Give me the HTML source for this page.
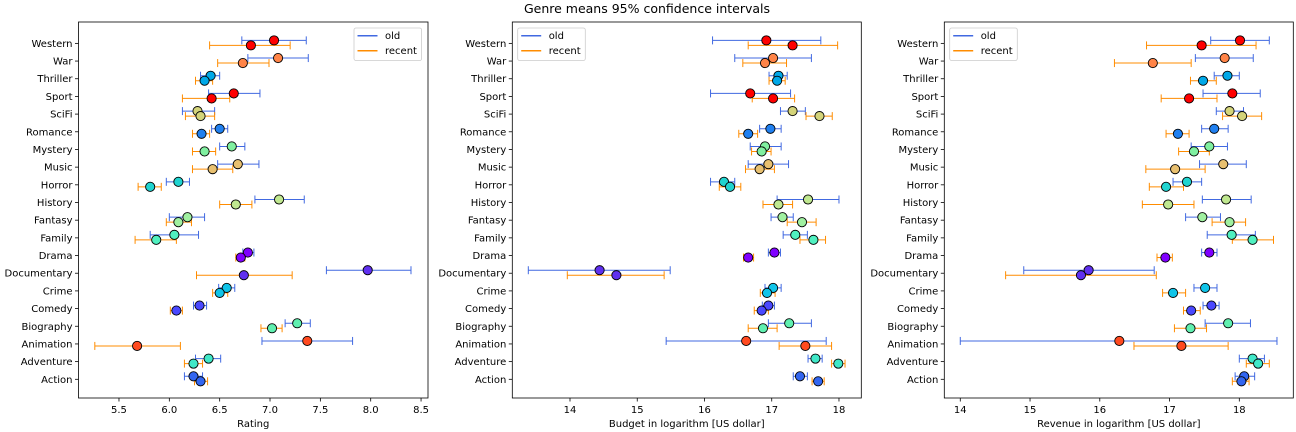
<!DOCTYPE html>
<html><head><meta charset="utf-8"><style>
html,body{margin:0;padding:0;background:#fff;}
svg{display:block;font-family:"DejaVu Sans","Liberation Sans",sans-serif;}
</style></head><body>
<svg id="chart" width="1296" height="432" viewBox="0 0 1296 432" xmlns="http://www.w3.org/2000/svg">
<text x="647" y="13" font-size="12.5" text-anchor="middle" fill="#000">Genre means 95% confidence intervals</text>
</svg>
<script>
const genres = ["Action","Adventure","Animation","Biography","Comedy","Crime","Documentary","Drama","Family","Fantasy","History","Horror","Music","Mystery","Romance","SciFi","Sport","Thriller","War","Western"];
const genreColors = ["#3366f0","#40e8c8","#ff4a20","#60f0b0","#4a48ff","#10c4e8","#6030f0","#8000ff","#50f0c0","#a0f0a0","#c0e890","#20d4d0","#e8c070","#80f0a0","#2080f0","#d4d47a","#ff0000","#00a8e8","#ff8448","#ff0000"];
// Rating
const ratingOldMean = [6.24,6.39,7.37,7.27,6.30,6.57,7.97,6.78,6.05,6.18,7.09,6.09,6.68,6.62,6.50,6.28,6.64,6.41,7.08,7.04];
const ratingOldLo   = [6.15,6.26,6.92,7.15,6.24,6.49,7.56,6.73,5.81,6.00,6.85,5.97,6.48,6.50,6.42,6.13,6.39,6.31,6.78,6.72];
const ratingOldHi   = [6.33,6.51,7.82,7.40,6.37,6.65,8.40,6.84,6.29,6.35,7.34,6.20,6.89,6.75,6.58,6.45,6.90,6.50,7.38,7.36];
const ratingNewMean = [6.31,6.24,5.68,7.02,6.07,6.50,6.74,6.71,5.87,6.09,6.66,5.81,6.43,6.35,6.32,6.31,6.42,6.35,6.73,6.81];
const ratingNewLo   = [6.25,6.15,5.26,6.91,6.01,6.43,6.27,6.66,5.66,5.97,6.50,5.69,6.23,6.23,6.23,6.16,6.13,6.26,6.48,6.40];
const ratingNewHi   = [6.38,6.33,6.11,7.12,6.13,6.58,7.22,6.75,6.07,6.22,6.82,5.92,6.63,6.46,6.40,6.45,6.60,6.43,6.99,7.20];
// Budget
const budgetOldMean = [17.42,17.65,16.62,17.26,16.95,17.02,14.44,17.04,17.35,17.16,17.54,16.29,16.95,16.90,16.98,17.31,16.68,17.10,17.02,16.92];
const budgetOldLo   = [17.32,17.54,15.43,16.95,16.86,16.90,13.38,16.95,17.17,16.99,17.08,16.09,16.65,16.68,16.82,17.13,16.09,16.96,16.45,16.12];
const budgetOldHi   = [17.53,17.75,17.81,17.59,17.04,17.14,15.49,17.13,17.53,17.32,18.00,16.45,17.25,17.14,17.14,17.50,17.28,17.23,17.59,17.73];
const budgetNewMean = [17.69,17.99,17.50,16.87,16.85,16.93,14.69,16.65,17.62,17.45,17.10,16.38,16.82,16.85,16.65,17.71,17.02,17.08,16.90,17.31];
const budgetNewLo   = [17.60,17.89,17.11,16.65,16.74,16.83,13.96,16.58,17.42,17.23,16.87,16.22,16.61,16.70,16.51,17.51,16.71,16.96,16.57,16.65];
const budgetNewHi   = [17.78,18.09,17.89,17.08,16.95,17.05,15.40,16.73,17.80,17.66,17.31,16.54,17.04,16.99,16.79,17.90,17.34,17.20,17.22,17.98];
// Revenue
const revOldMean = [18.07,18.19,16.28,17.84,17.60,17.51,15.84,17.57,17.89,17.47,17.81,17.25,17.77,17.57,17.64,17.86,17.90,17.83,17.79,18.01];
const revOldLo   = [17.94,18.00,14.00,17.51,17.48,17.35,14.91,17.46,17.54,17.23,17.47,17.05,17.43,17.31,17.46,17.67,17.48,17.64,17.37,17.59];
const revOldHi   = [18.22,18.36,18.54,18.16,17.71,17.68,16.78,17.68,18.23,17.73,18.17,17.46,18.10,17.83,17.84,18.06,18.30,18.00,18.20,18.43];
const revNewMean = [18.03,18.27,17.17,17.30,17.31,17.05,15.73,16.94,18.19,17.86,16.98,16.95,17.08,17.35,17.12,18.04,17.28,17.48,16.76,17.46];
const revNewLo   = [17.90,18.10,16.49,17.07,17.20,16.90,14.65,16.82,17.90,17.61,16.61,16.71,16.66,17.13,16.95,17.76,16.88,17.30,16.21,16.67];
const revNewHi   = [18.14,18.43,17.84,17.53,17.44,17.23,16.81,17.04,18.49,18.09,17.35,17.20,17.51,17.57,17.28,18.32,17.68,17.67,17.31,18.24];
const ratingTicks = [5.5,6.0,6.5,7.0,7.5,8.0,8.5];
const budgetTicks = [14,15,16,17,18];
const revTicks = [14,15,16,17,18];

const NS="http://www.w3.org/2000/svg";
const svg=document.getElementById('chart');
function mk(tag,attrs,parent){const e=document.createElementNS(NS,tag);for(const k in attrs)e.setAttribute(k,attrs[k]);(parent||svg).appendChild(e);return e;}

const panels=[
 {name:'rating',L:78.5,R:428,dmin:5.098,dmax:8.569,ticks:ratingTicks,fmt:v=>v.toFixed(1),label:'Rating',legX:354,
  om:ratingOldMean,ol:ratingOldLo,oh:ratingOldHi,nm:ratingNewMean,nl:ratingNewLo,nh:ratingNewHi},
 {name:'budget',L:512.3,R:861.3,dmin:13.142,dmax:18.332,ticks:budgetTicks,fmt:v=>String(v),label:'Budget in logarithm [US dollar]',legX:517.7,
  om:budgetOldMean,ol:budgetOldLo,oh:budgetOldHi,nm:budgetNewMean,nl:budgetNewLo,nh:budgetNewHi},
 {name:'revenue',L:944.3,R:1293.3,dmin:13.771,dmax:18.774,ticks:revTicks,fmt:v=>String(v),label:'Revenue in logarithm [US dollar]',legX:949.7,
  om:revOldMean,ol:revOldLo,oh:revOldHi,nm:revNewMean,nl:revNewLo,nh:revNewHi}
];
const TOP=22,BOT=398;
function yOf(i){return 379.3-i*17.68;}
const OLD='#4169e1',NEW='#ff8c00';

panels.forEach(p=>{
  const g=mk('g',{});
  
  
  const x=v=>p.L+(v-p.dmin)/(p.dmax-p.dmin)*(p.R-p.L);
  // y ticks
  genres.forEach((gn,i)=>{
    const y=yOf(i);
    mk('line',{x1:p.L-3.5,x2:p.L,y1:y,y2:y,stroke:'#000','stroke-width':0.8},g);
    const t=mk('text',{x:p.L-6,y:y+3.5,'font-size':10,'text-anchor':'end',fill:'#000'},g);
    t.textContent=gn;
    
    
  });
  p.ticks.forEach(v=>{
    const xx=x(v);
    mk('line',{x1:xx,x2:xx,y1:BOT,y2:BOT+3.5,stroke:'#000','stroke-width':0.8},g);
    const t=mk('text',{x:xx,y:BOT+15,'font-size':10,'text-anchor':'middle',fill:'#000'},g);
    t.textContent=p.fmt(v);
    
    
  });
  const xl=mk('text',{x:(p.L+p.R)/2,y:427,'font-size':10,'text-anchor':'middle',fill:'#000'},g);
  xl.textContent=p.label;
  
  
  // series
  const series=[{m:p.om,l:p.ol,h:p.oh,c:OLD,dy:-3,n:'old'},{m:p.nm,l:p.nl,h:p.nh,c:NEW,dy:2,n:'recent'}];
  series.forEach(s=>{
    genres.forEach((gn,i)=>{
      const y=yOf(i)+s.dy;
      const eb=mk('g',{stroke:s.c,'stroke-width':1},g);
      
      
      mk('line',{x1:x(s.l[i]),x2:x(s.h[i]),y1:y,y2:y},eb);
      mk('line',{x1:x(s.l[i]),x2:x(s.l[i]),y1:y-4,y2:y+4},eb);
      mk('line',{x1:x(s.h[i]),x2:x(s.h[i]),y1:y-4,y2:y+4},eb);
    });
  });
  series.forEach(s=>{
    genres.forEach((gn,i)=>{
      const c=mk('circle',{cx:x(s.m[i]),cy:yOf(i)+s.dy,r:4.6,fill:genreColors[i],stroke:'#000','stroke-width':0.9},g);
      
      
    });
  });
  mk('rect',{x:p.L,y:TOP,width:p.R-p.L,height:BOT-TOP,fill:'none',stroke:'#000','stroke-width':0.8},g);
  // legend
  const lg=mk('g',{},g);
  
  
  mk('rect',{x:p.legX,y:28,width:67.6,height:32.5,rx:2,fill:'#fff','fill-opacity':0.8,stroke:'#ccc','stroke-width':0.8},lg);
  [['old',OLD,35.7],['recent',NEW,50.7]].forEach(([lab,col,yy])=>{
    mk('line',{x1:p.legX+3.5,x2:p.legX+23.5,y1:yy,y2:yy,stroke:col,'stroke-width':1.5},lg);
    const t=mk('text',{x:p.legX+31,y:yy+3.5,'font-size':10,fill:'#000'},lg);
    t.textContent=lab;
    
    
  });
});
</script>
</body></html>
